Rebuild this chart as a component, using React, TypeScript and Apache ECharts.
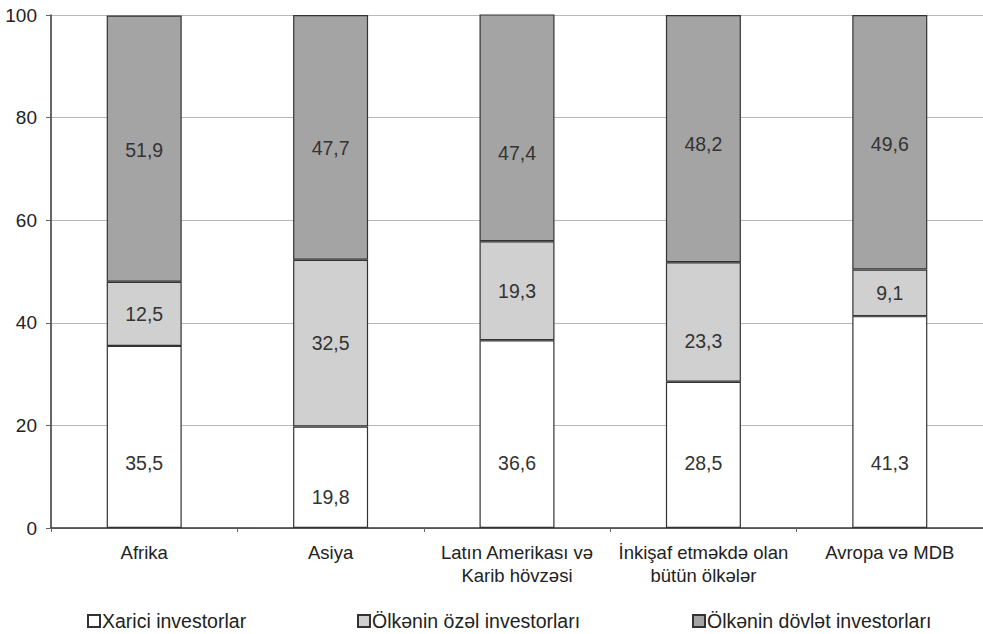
import React, { useEffect, useRef } from "react";
import * as echarts from "echarts";

const categories = [
  "Afrika",
  "Asiya",
  "Latın Amerikası və\nKarib hövzəsi",
  "İnkişaf etməkdə olan\nbütün ölkələr",
  "Avropa və MDB",
];
const seriesNames = [
  "Xarici investorlar",
  "Ölkənin özəl investorları",
  "Ölkənin dövlət investorları",
];
const foreignInvestors = [35.5, 19.8, 36.6, 28.5, 41.3];
const privateInvestors = [12.5, 32.5, 19.3, 23.3, 9.1];
const stateInvestors = [51.9, 47.7, 47.4, 48.2, 49.6];
const yTicks = [0, 20, 40, 60, 80, 100];

// label vertical nudges (px) to match the reference placement
const foreignOffsets = [26, 20, 29, 8, 41];
const privateOffsets = [0, 0, 0, 19, 0];
const stateOffsets = [1, 11, 25, 5, 2];

const fmt = (v: number) => v.toFixed(1).replace(".", ",");

export default function App() {
  const ref = useRef<HTMLDivElement>(null);
  useEffect(() => {
    if (!ref.current) return;
    const chart = echarts.init(ref.current, undefined, { renderer: "svg" });
    const font = "Liberation Sans";
    const mk = (vals: number[], offs: number[]) =>
      vals.map((v, i) => ({ value: v, label: { offset: [0, offs[i]] } }));
    const colors = ["#ffffff", "#d0d0d0", "#a4a4a4"];
    const datas = [
      mk(foreignInvestors, foreignOffsets),
      mk(privateInvestors, privateOffsets),
      mk(stateInvestors, stateOffsets),
    ];
    const legendLefts = [87, 357, 692];
    chart.setOption({
      animation: false,
      backgroundColor: "#ffffff",
      textStyle: { fontFamily: font },
      grid: { left: 51, top: 15, width: 933, bottom: 106, containLabel: false },
      legend: seriesNames.map((n, i) => ({
        data: [n],
        left: legendLefts[i],
        top: 611,
        icon: "rect",
        itemWidth: 12,
        itemHeight: 12,
        itemGap: 4,
        padding: 0,
        textStyle: { fontSize: 19.5, color: "#222", fontFamily: font, padding: [0, 0, 0, -3] },
      })),
      xAxis: {
        type: "category",
        data: categories,
        axisLine: { show: true, lineStyle: { color: "#333", width: 1.5 } },
        axisTick: { show: true, length: 4, lineStyle: { color: "#666" } },
        axisLabel: {
          interval: 0,
          fontSize: 18.5,
          color: "#222",
          margin: 13,
          lineHeight: 23,
          fontFamily: font,
        },
      },
      yAxis: {
        type: "value",
        min: 0,
        max: 100,
        interval: 20,
        axisLine: { show: true, lineStyle: { color: "#333", width: 1.5 } },
        axisTick: { show: true, length: 5, lineStyle: { color: "#666" } },
        axisLabel: {
          fontSize: 19,
          color: "#222",
          margin: 14,
          fontFamily: font,
          formatter: (v: number) => (yTicks.includes(v) ? String(v) : ""),
        },
        splitLine: { show: true, lineStyle: { color: "#b8b8b8", width: 1 } },
      },
      series: seriesNames.map((n, i) => ({
        name: n,
        type: "bar",
        stack: "total",
        barWidth: 75,
        data: datas[i],
        itemStyle: { color: colors[i], borderColor: "#333", borderWidth: 1.2 },
        label: {
          show: true,
          position: "inside",
          fontSize: 19.5,
          color: "#333",
          fontFamily: font,
          formatter: (p: any) => fmt(p.value),
        },
      })),
    });
    return () => chart.dispose();
  }, []);
  return (
    <div
      ref={ref}
      style={{ position: "fixed", left: 0, top: 0, width: 983, height: 634, background: "#fff" }}
    />
  );
}
